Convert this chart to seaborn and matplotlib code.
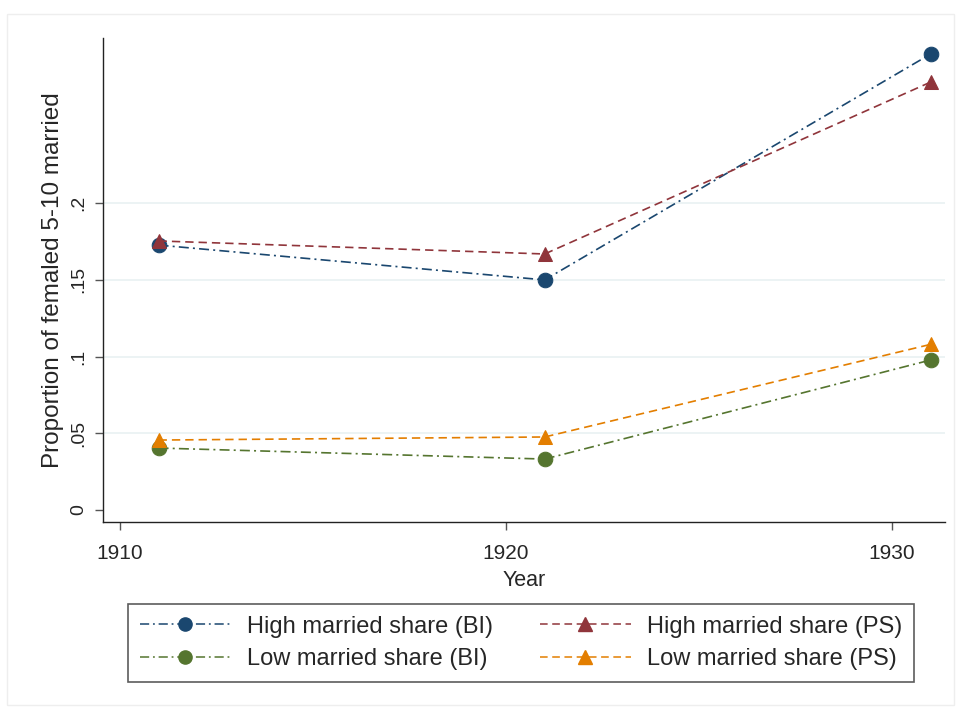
import matplotlib
matplotlib.use("Agg")
import matplotlib.pyplot as plt
import seaborn as sns
import numpy as np
from matplotlib.lines import Line2D
from matplotlib.patches import Rectangle

years = [1911, 1921, 1931]
high_bi = [0.1727, 0.1500, 0.2973]
high_ps = [0.1754, 0.1669, 0.2790]
low_bi = [0.0404, 0.0332, 0.0978]
low_ps = [0.0456, 0.0476, 0.1080]

labels = ["High married share (BI)", "High married share (PS)",
          "Low married share (BI)", "Low married share (PS)"]
yticks = [0, 0.05, 0.1, 0.15, 0.2]
ytick_labels = ["0", ".05", ".1", ".15", ".2"]
xticks = [1910, 1920, 1930]

sns.set_style("white")
font = ["Liberation Sans", "DejaVu Sans"]
plt.rcParams["font.family"] = font

fig = plt.figure(figsize=(9.57, 7.09), dpi=100)
ax = fig.add_axes([0.1076, 0.2638, 0.8799, 0.6826])

BI_DASH = (6, 2.5, 1.2, 2.5)
PS_DASH = (5, 3)
series = [
    (high_bi, "#1a476f", "o", BI_DASH),
    (high_ps, "#90353b", "^", PS_DASH),
    (low_bi, "#55752f", "o", BI_DASH),
    (low_ps, "#e37e00", "^", PS_DASH),
]
for (vals, col, mk, dash), lab in zip(series, labels):
    sns.lineplot(x=years, y=vals, ax=ax, color=col, marker=mk, markersize=10.5,
                 markeredgecolor=col, linewidth=1.2, label=lab, legend=False)
    ax.lines[-1].set_dashes(dash)

for t in yticks[1:]:
    ax.axhline(t, color="#eaf2f3", linewidth=1.3, zorder=0)

ax.set_xlim(1909.56, 1931.37)
ax.set_ylim(-0.0078, 0.3077)
ax.set_yticks(yticks)
ax.set_yticklabels(ytick_labels, rotation=90, va="center")
ax.set_xticks(xticks)
ax.set_xticklabels([str(x) for x in xticks])
ax.tick_params(axis="both", direction="out", length=6, width=1, color="#555555",
               left=True, bottom=True)
ax.tick_params(axis="x", labelsize=15, pad=10)
ax.tick_params(axis="y", labelsize=14, pad=5)
for s in ["top", "right"]:
    ax.spines[s].set_visible(False)
for s in ["left", "bottom"]:
    ax.spines[s].set_color("#222222")
    ax.spines[s].set_linewidth(1)
ax.set_xlabel("Year", fontsize=15.5, labelpad=5)
ax.set_ylabel("Proportion of femaled 5-10 married", fontsize=17.5, labelpad=5)

order = [0, 2, 1, 3]
handles = []
for (vals, col, mk, dash), lab in zip(series, labels):
    h = Line2D([0], [0], color=col, marker=mk, markersize=9.5, linewidth=1.1,
               markeredgecolor=col)
    h.set_dashes(dash)
    handles.append(h)
leg = fig.legend([handles[i] for i in order], [labels[i] for i in order],
                 ncol=2, loc="center",
                 bbox_to_anchor=(0.5444, 0.0931), frameon=True, fancybox=False,
                 handlelength=3.85, columnspacing=2.0,
                 borderpad=0.5, labelspacing=0.45, handletextpad=0.68,
                 prop={"family": font, "size": 17})
leg.get_frame().set_edgecolor("#333333")
leg.get_frame().set_linewidth(1.2)

fig.patches.append(Rectangle((0.007, 0.005), 0.99, 0.975, transform=fig.transFigure,
                             fill=False, edgecolor="#eeeeee", linewidth=1))

fig.savefig("out.png", dpi=100, facecolor="white")
